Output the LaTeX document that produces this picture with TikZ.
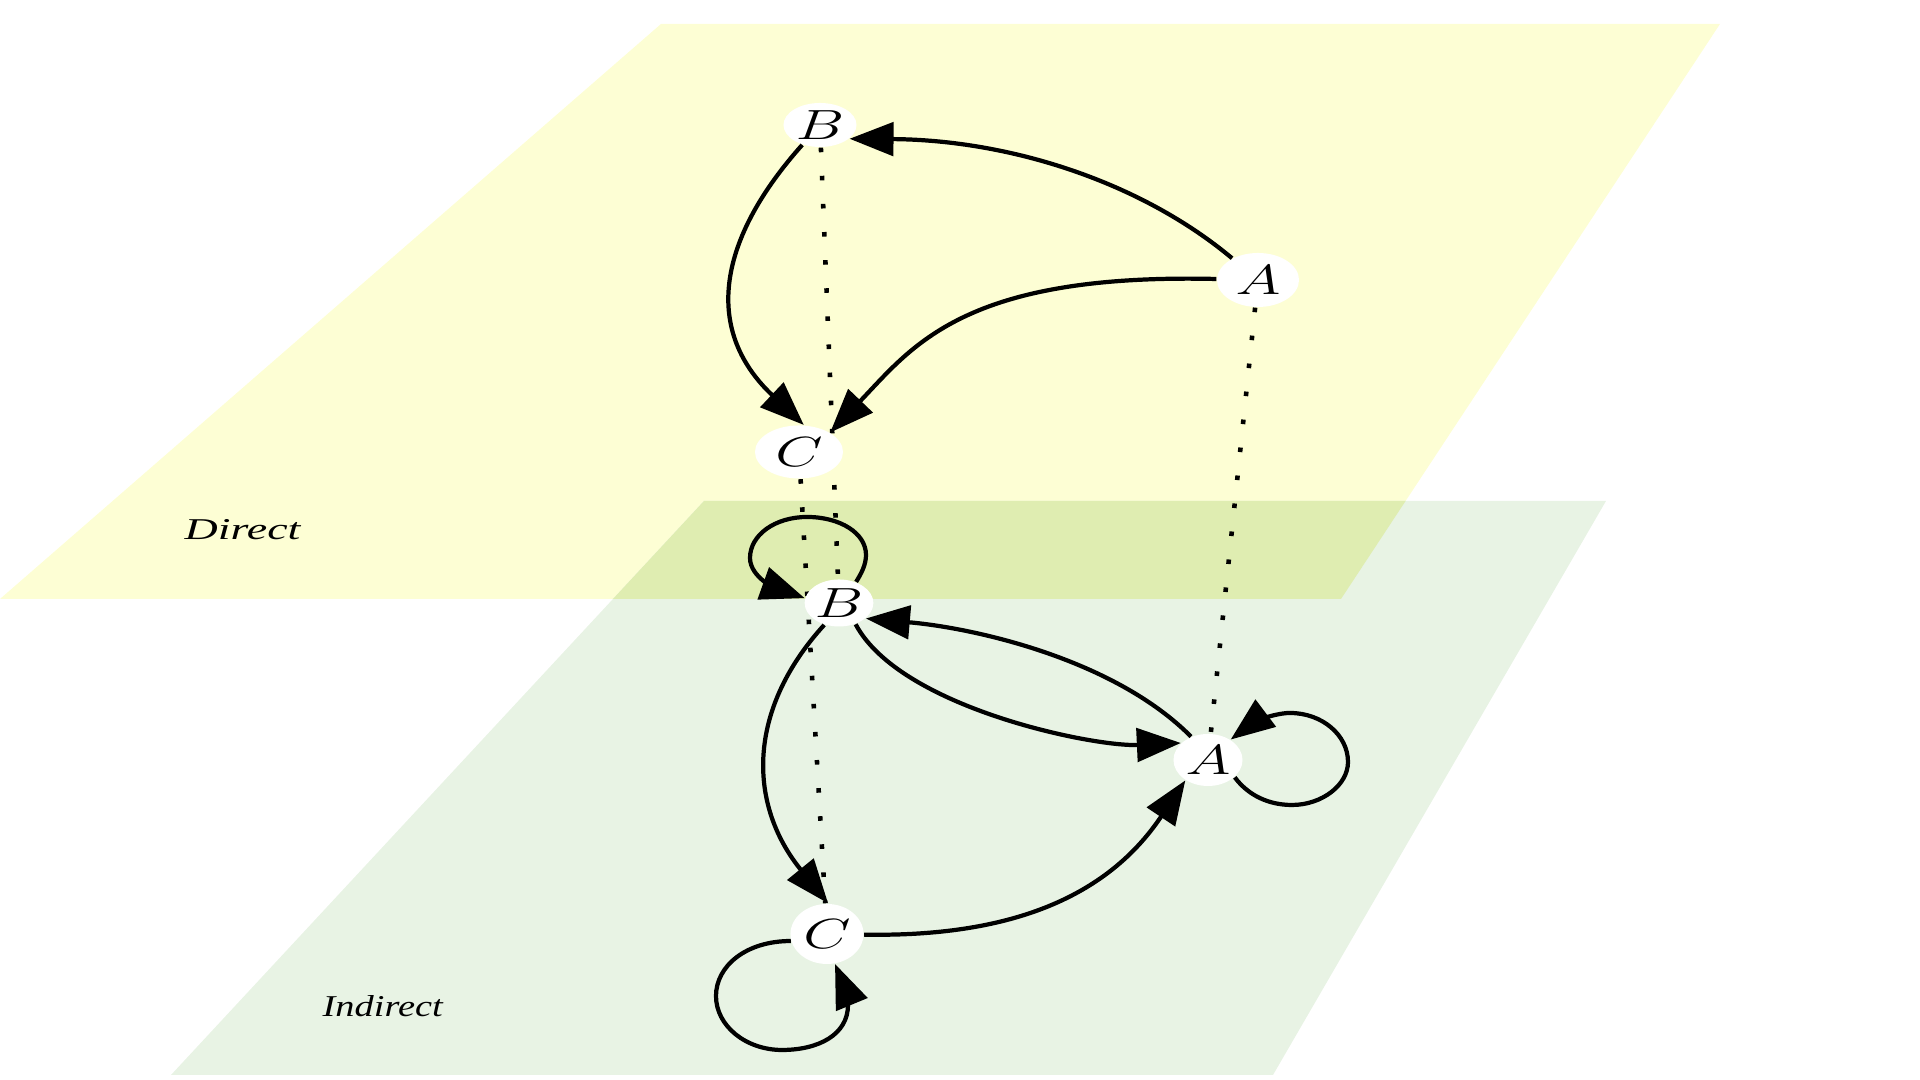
\documentclass[tikz,border=0pt]{standalone}
\usepackage{fontspec}
\usepackage{graphicx}
\newfontfamily\lblfont{Liberation Serif}
\usetikzlibrary{arrows.meta,shapes.geometric}
\pgfdeclarelayer{background}
\pgfsetlayers{background,main}
\definecolor{yel}{HTML}{FDFED4}
\definecolor{grn}{HTML}{E8F3E4}
\definecolor{ovl}{HTML}{DFEDB1}
\begin{document}
\begin{tikzpicture}[x=0.01cm,y=0.01cm,
  vtx/.style={ellipse, fill=white, inner sep=0pt, font=\fontsize{12}{14}\selectfont},
  edge/.style={line width=1.2pt, -{Triangle[length=12.5pt,width=9.5pt]}},
  dotline/.style={line width=1.3pt, dash pattern=on 1.3pt off 6.7pt},
  lbl/.style={anchor=base west, inner sep=0pt, font=\fontsize{8.6}{10}\selectfont\lblfont\itshape}]
\useasboundingbox (0,0) rectangle (1920,1080);
% nodes, top plane
\node[vtx, minimum width=0.73cm, minimum height=0.44cm] (Bt) at (820,955) {\scalebox{1.45}[1]{$B$}};
\node[vtx, minimum width=0.82cm, minimum height=0.54cm] (At) at (1258,800) {\scalebox{1.45}[1]{$A$}};
\node[vtx, minimum width=0.88cm, minimum height=0.53cm] (Ct) at (799,628) {\scalebox{1.45}[1]{$C$}};
% nodes, bottom plane
\node[vtx, minimum width=0.62cm, minimum height=0.47cm] (Bb) at (839,477) {\scalebox{1.45}[1]{$B$}};
\node[vtx, minimum width=0.69cm, minimum height=0.52cm] (Ab) at (1208,320) {\scalebox{1.45}[1]{$A$}};
\node[vtx, minimum width=0.73cm, minimum height=0.60cm] (Cb) at (827,146) {\scalebox{1.45}[1]{$C$}};
% labels
\node[lbl] (ldirect) at (184,540) {\scalebox{1.52}[1]{Direct}};
\node[lbl] (lindirect) at (322,63) {\scalebox{1.27}[1]{Indirect}};
\begin{pgfonlayer}{background}
  \fill[yel] (661,1056) -- (1720,1056) -- (1341,481) -- (0,481) -- cycle;
  \fill[grn] (704,579) -- (1606,579) -- (1273,5) -- (171,5) -- cycle;
  \begin{scope}
    \clip (661,1056) -- (1720,1056) -- (1341,481) -- (0,481) -- cycle;
    \fill[ovl] (704,579) -- (1606,579) -- (1273,5) -- (171,5) -- cycle;
  \end{scope}
  \draw[dotline] (Bt) -- (Bb);
  \draw[dotline] (Ct) -- (Cb);
  \draw[dotline] (At) -- (Ab);
\end{pgfonlayer}
% top plane edges
\draw[edge] (At) .. controls (1141,898) and (1010,940) .. (Bt.-25);
\draw[edge] (At) .. controls (964,807) and (913,734) .. (Ct.32);
\draw[edge] (Bt) .. controls (720,843) and (701,752) .. (Ct.80);
% bottom plane edges
\draw[edge] (Bb.51) .. controls (861,506) and (866,515) .. (866,525)
  .. controls (866,547) and (840,563) .. (807,563)
  .. controls (775,563) and (750,545) .. (750,522)
  .. controls (750,502) and (779,491) .. (Bb.172);
\draw[edge] (Ab.126) .. controls (1114,421) and (974,452) .. (Bb.-30);
\draw[edge] (Bb.-52) .. controls (900,372) and (1094,333) .. (Ab.148);
\draw[edge] (Ab.-33) .. controls (1248,285) and (1268,275) .. (1292,275)
  .. controls (1322,275) and (1348,295) .. (1348,318)
  .. controls (1348,345) and (1322,367) .. (1290,367)
  .. controls (1272,367) and (1250,355) .. (Ab.42);
\draw[edge] (Bb.236) .. controls (745,368) and (749,274) .. (Cb.88);
\draw[edge] (Cb) .. controls (996,143) and (1102,175) .. (Ab.222);
\draw[edge] (Cb.191) .. controls (746,139) and (716,114) .. (716,84)
  .. controls (716,54) and (746,30) .. (782,30)
  .. controls (818,30) and (848,45) .. (848,75)
  .. controls (848,90) and (840,104) .. (Cb.-75);
\end{tikzpicture}
\end{document}
